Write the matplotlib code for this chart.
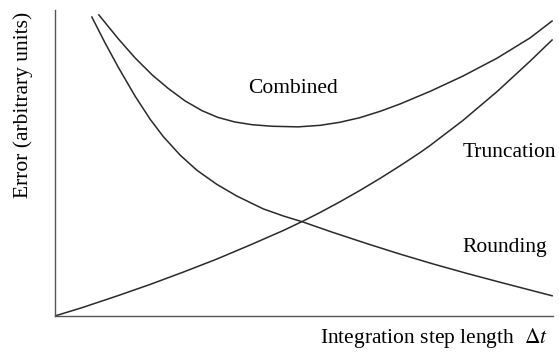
"""
Error vs integration step length sketch
- truncation / rounding / combined error curves
- out.png
"""

import matplotlib
matplotlib.use('Agg')
import matplotlib.pyplot as plt

# ── data (arbitrary units) ───────────────────────────────────
trunc_x = [0, 0.56, 1.24, 1.91, 2.57, 3.25, 3.92, 4.58, 4.98, 5.32, 5.72, 6.12,
           6.53, 6.93, 7.33, 7.53, 8.19, 8.88, 9.54, 9.98]
trunc_y = [0, 0.28, 0.65, 1.03, 1.43, 1.86, 2.32, 2.79, 3.10, 3.38, 3.73, 4.10,
           4.50, 4.91, 5.34, 5.57, 6.39, 7.34, 8.33, 9.02]

round_x = [0.74, 1.00, 1.27, 1.61, 1.91, 2.17, 2.51, 2.85, 3.25, 3.65, 4.18,
           4.58, 4.98, 5.58, 6.27, 6.93, 7.59, 8.27, 8.94, 9.60, 9.98]
round_y = [9.77, 8.94, 8.13, 7.18, 6.43, 5.87, 5.26, 4.76, 4.30, 3.92, 3.50,
           3.27, 3.07, 2.73, 2.36, 2.02, 1.70, 1.39, 1.10, 0.82, 0.66]

comb_x = [0.88, 1.27, 1.61, 1.95, 2.27, 2.61, 2.95, 3.27, 3.61, 3.96, 4.36,
          4.88, 5.32, 5.72, 6.12, 6.53, 6.93, 7.53, 8.19, 8.88, 9.54, 9.98]
comb_y = [9.84, 9.06, 8.43, 7.88, 7.44, 7.03, 6.71, 6.49, 6.34, 6.25, 6.20,
          6.18, 6.23, 6.33, 6.48, 6.69, 6.93, 7.34, 7.84, 8.43, 9.09, 9.64]

plt.rcParams['font.family'] = ['Liberation Serif', 'DejaVu Serif']
plt.rcParams['mathtext.fontset'] = 'stix'

fig = plt.figure(figsize=(5.59, 3.57), dpi=100)
ax = fig.add_axes([0.0984, 0.115, 0.891, 0.857])

line_kw = dict(color='#2a2a2a', linewidth=1.1, solid_joinstyle='round')
ax.plot(trunc_x, trunc_y, **line_kw)
ax.plot(round_x, round_y, **line_kw)
ax.plot(comb_x, comb_y, **line_kw)

ax.set_xlim(0, 10)
ax.set_ylim(0, 10)
ax.set_xticks([])
ax.set_yticks([])
for side in ['top', 'right']:
    ax.spines[side].set_visible(False)
for side in ['left', 'bottom']:
    ax.spines[side].set_color('#555555')
    ax.spines[side].set_linewidth(1.0)

# curve labels
fs = 15.5
ax.text(4.78, 7.42, 'Combined', fontsize=fs, ha='center', va='center')
ax.text(8.19, 5.33, 'Truncation', fontsize=fs, ha='left', va='center', clip_on=False)
ax.text(8.19, 2.25, 'Rounding', fontsize=fs, ha='left', va='center')

# axis labels
fig.text(23 / 559, 1 - 105 / 357, 'Error (arbitrary units)', fontsize=fs,
         rotation=90, ha='center', va='center')
fig.text(548 / 559, 1 - 338 / 357, r'Integration step length  $\Delta t$', fontsize=fs,
         ha='right', va='center')

plt.savefig('out.png', dpi=100)
plt.close()
